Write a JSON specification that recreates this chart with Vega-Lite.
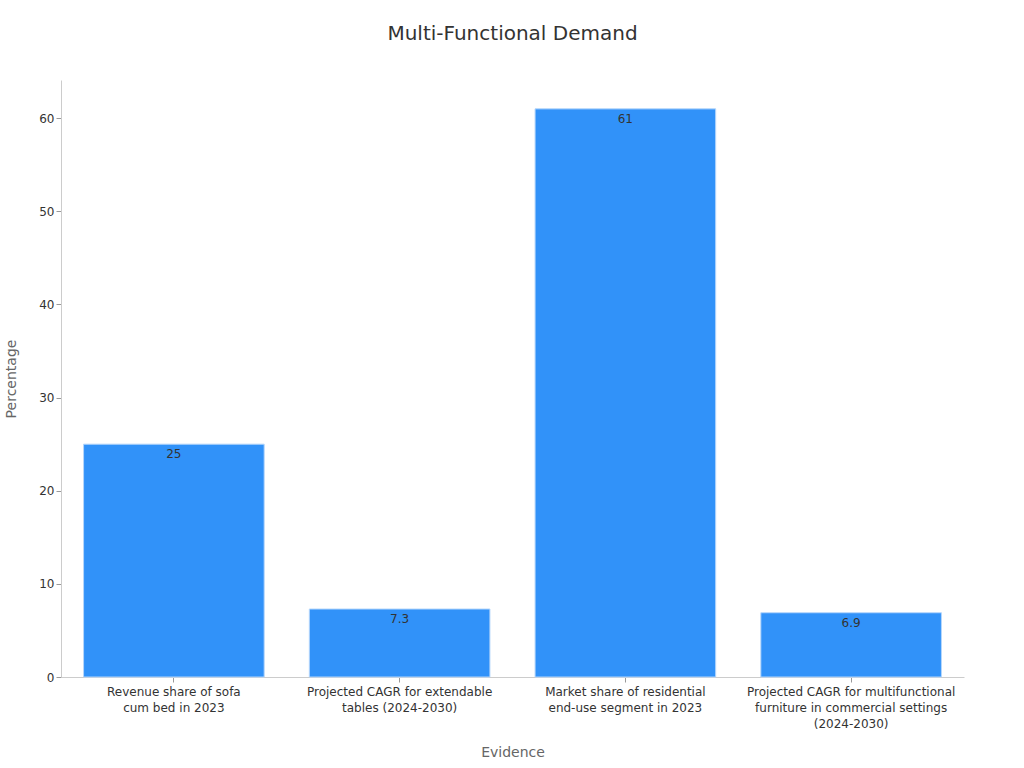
{
  "$schema": "https://vega.github.io/schema/vega-lite/v6.json",
  "autosize": "none",
  "width": 903,
  "height": 597,
  "padding": {"left": 61, "top": 80, "right": 60, "bottom": 91},
  "background": "white",
  "config": {
    "font": "DejaVu Sans",
    "view": {"stroke": null},
    "axis": {"grid": false, "domainColor": "#cccccc", "tickColor": "#999999", "labelColor": "#333333", "titleColor": "#666666", "titleFontWeight": "normal", "labelFontSize": 12, "titleFontSize": 14}
  },
  "title": {"text": "Multi-Functional Demand", "fontSize": 20, "fontWeight": "normal", "color": "#333333", "offset": 36},
  "data": {
    "values": [
      {"Evidence": "Revenue share of sofa\ncum bed in 2023", "Percentage": 25},
      {"Evidence": "Projected CAGR for extendable\ntables (2024-2030)", "Percentage": 7.3},
      {"Evidence": "Market share of residential\nend-use segment in 2023", "Percentage": 61},
      {"Evidence": "Projected CAGR for multifunctional\nfurniture in commercial settings\n(2024-2030)", "Percentage": 6.9}
    ]
  },
  "encoding": {
    "x": {
      "field": "Evidence", "type": "nominal", "sort": null,
      "scale": {"paddingInner": 0.2, "paddingOuter": 0.1},
      "axis": {"labelAngle": 0, "labelExpr": "split(datum.label, '\\n')", "labelLineHeight": 16, "labelLimit": 400, "tickSize": 5, "labelPadding": 4, "titlePadding": 16}
    },
    "y": {
      "field": "Percentage", "type": "quantitative",
      "scale": {"domain": [0, 64.1], "nice": false},
      "axis": {"values": [0, 10, 20, 30, 40, 50, 60], "tickSize": 5, "titlePadding": 20}
    }
  },
  "layer": [
    {"mark": {"type": "bar", "color": "#3192f9", "stroke": "#b5d6fb", "strokeWidth": 1}},
    {"mark": {"type": "text", "baseline": "top", "dy": 5, "fontSize": 12, "color": "#333333"}, "encoding": {"text": {"field": "Percentage", "type": "quantitative"}}}
  ]
}
